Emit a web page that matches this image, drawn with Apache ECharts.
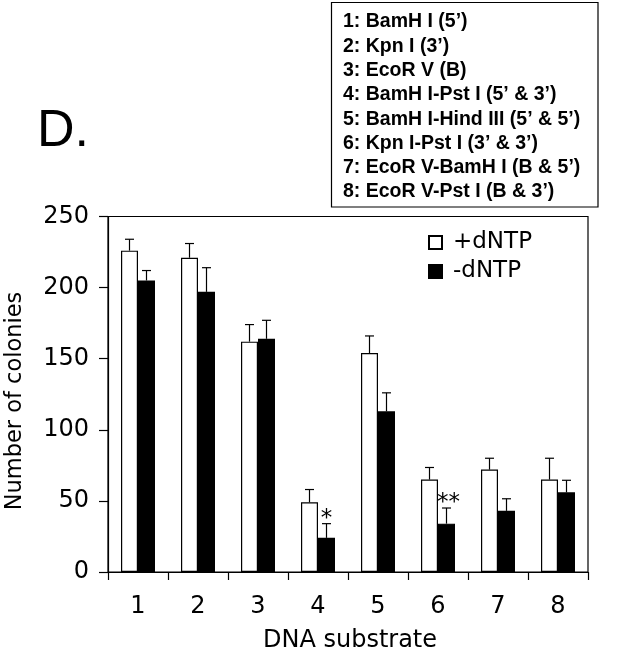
<!DOCTYPE html>
<html>
<head>
<meta charset="utf-8">
<script src="https://cdn.jsdelivr.net/npm/echarts@6/dist/echarts.min.js"></script>
<style>
html,body{margin:0;padding:0;background:#fff;}
#chart{width:623px;height:652px;}
</style>
</head>
<body>
<div id="chart"></div>
<script>
// ---- data ----
var categories = ['1','2','3','4','5','6','7','8'];
var plusValues = [226, 221, 162, 49, 154, 65, 72, 65];
var plusErrors = [8, 10, 12, 9, 12, 8.5, 8, 15];
var minusValues = [205, 197, 164, 24, 113, 34, 43, 56];
var minusErrors = [7, 17, 13, 10, 13, 11, 8.5, 8.5];
var minusMarks = ['', '', '', '*', '', '**', '', ''];
var seriesNames = ['+dNTP', '-dNTP'];
var yTicks = [0, 50, 100, 150, 200, 250];
var keyLines = [
  '1: BamH I (5\u2019)',
  '2: Kpn I (3\u2019)',
  '3: EcoR V (B)',
  '4: BamH I-Pst I (5\u2019 & 3\u2019)',
  '5: BamH I-Hind III (5\u2019 & 5\u2019)',
  '6: Kpn I-Pst I (3\u2019 & 3\u2019)',
  '7: EcoR V-BamH I (B & 5\u2019)',
  '8: EcoR V-Pst I (B & 3\u2019)'
];
var panelLabel = 'D.';
var yTitle = 'Number of colonies';
var xTitle = 'DNA substrate';

// ---- styles ----
var FONT = 'DejaVu Sans';
var BAR_W = 17;

function errSeries(values, errors, offset, marks) {
  return {
    type: 'custom',
    silent: true,
    z: 5,
    data: values.map(function (v, i) { return [i, v, errors[i]]; }),
    encode: { x: 0, y: 1 },
    renderItem: function (params, api) {
      var i = api.value(0), v = api.value(1), e = api.value(2);
      var p0 = api.coord([i, v]);
      var p1 = api.coord([i, v + e]);
      var x = p0[0] + offset;
      var children = [
        { type: 'line', shape: { x1: x, y1: p0[1], x2: x, y2: p1[1] }, style: { stroke: '#000', lineWidth: 1.2 } },
        { type: 'line', shape: { x1: x - 4.5, y1: p1[1], x2: x + 4.5, y2: p1[1] }, style: { stroke: '#000', lineWidth: 1.2 } }
      ];
      var m = marks ? marks[params.dataIndex] : '';
      if (m) {
        children.push({
          type: 'text',
          style: { text: m, x: x + (m.length > 1 ? 2 : 0), y: p1[1] + 7, align: 'center', verticalAlign: 'bottom',
                   font: '23px "' + FONT + '"', fill: '#000' }
        });
      }
      return { type: 'group', children: children };
    }
  };
}

var graphics = [
  { type: 'rect', shape: { x: 331.5, y: 2.5, width: 266.5, height: 204.5 },
    style: { fill: '#fff', stroke: '#000', lineWidth: 1.2 } },
  { type: 'text', left: 37, top: 106,
    style: { text: panelLabel, font: '52px "Liberation Sans"', fill: '#000' } },
  { type: 'text', x: 15, y: 401, rotation: Math.PI / 2,
    style: { text: yTitle, font: '22.5px "' + FONT + '"', fill: '#000', align: 'center', verticalAlign: 'middle' } },
  { type: 'text', x: 350, y: 641,
    style: { text: xTitle, font: '24px "' + FONT + '"', fill: '#000', align: 'center', verticalAlign: 'middle' } }
];
keyLines.forEach(function (t, i) {
  graphics.push({ type: 'text', x: 343, y: 22 + i * 24.3,
    style: { text: t, font: 'bold 19.5px "Liberation Sans"', fill: '#000', verticalAlign: 'middle' } });
});

var chart = echarts.init(document.getElementById('chart'), null, { renderer: 'canvas' });
chart.setOption({
  animation: false,
  backgroundColor: '#fff',
  textStyle: { fontFamily: FONT },
  grid: { left: 108, top: 216.5, right: 35, bottom: 80, show: true, borderColor: '#000', borderWidth: 1.2, backgroundColor: 'transparent' },
  legend: {
    orient: 'vertical', left: 428, top: 231, padding: 0, itemWidth: 13, itemHeight: 13, itemGap: 6,
    icon: 'rect',
    textStyle: { fontFamily: FONT, fontSize: 23, color: '#000', padding: [0, 0, 0, 6] },
    data: seriesNames
  },
  xAxis: {
    type: 'category', data: categories,
    axisLine: { lineStyle: { color: '#000', width: 1.2 } },
    axisTick: { show: true, length: 8, alignWithLabel: false, lineStyle: { color: '#000', width: 1.2 } },
    axisLabel: { color: '#000', fontSize: 24, fontFamily: FONT, margin: 23 }
  },
  yAxis: {
    type: 'value', min: yTicks[0], max: yTicks[yTicks.length - 1], interval: 50,
    axisLine: { show: true, lineStyle: { color: '#000', width: 1.2 } },
    axisTick: { show: true, length: 9, lineStyle: { color: '#000', width: 1.2 } },
    splitLine: { show: false },
    axisLabel: { color: '#000', fontSize: 24, fontFamily: FONT, margin: 19 }
  },
  series: [
    { name: seriesNames[0], type: 'bar', data: plusValues, barWidth: BAR_W, barGap: '0%',
      itemStyle: { color: '#fff', borderColor: '#000', borderWidth: 1.2 } },
    { name: seriesNames[1], type: 'bar', data: minusValues, barWidth: BAR_W, barGap: '0%',
      itemStyle: { color: '#000', borderColor: '#000', borderWidth: 1.2 } },
    errSeries(plusValues, plusErrors, -BAR_W / 2, null),
    errSeries(minusValues, minusErrors, BAR_W / 2, minusMarks)
  ],
  graphic: graphics
});
</script>
</body>
</html>
